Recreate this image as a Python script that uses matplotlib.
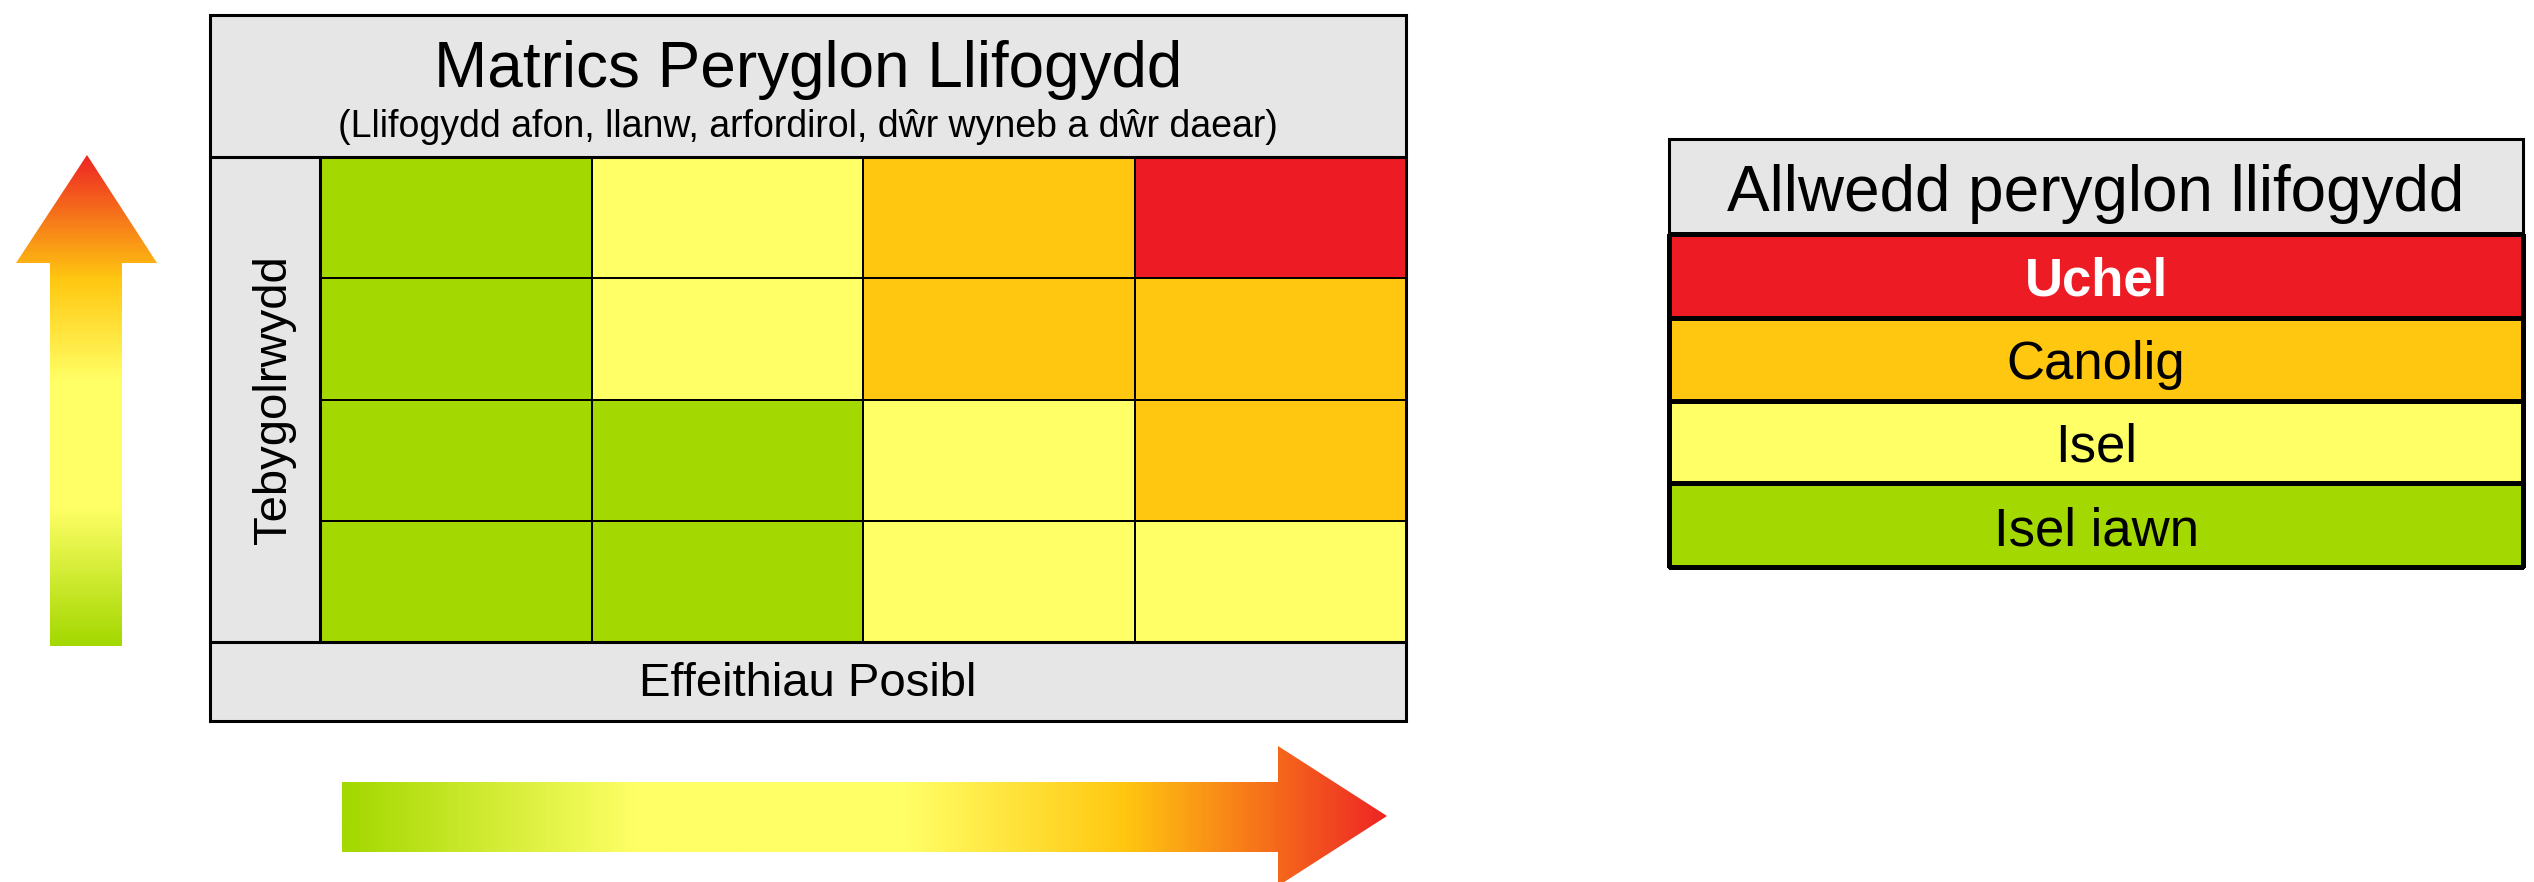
import matplotlib
matplotlib.use("Agg")
import matplotlib.pyplot as plt
import numpy as np
from matplotlib.colors import ListedColormap, LinearSegmentedColormap
from matplotlib.patches import Rectangle, Polygon

plt.rcParams["font.family"] = ["Liberation Sans", "DejaVu Sans"]

W, H = 2534, 882

title = "Matrics Peryglon Llifogydd"
subtitle = "(Llifogydd afon, llanw, arfordirol, dŵr wyneb a dŵr daear)"
y_label = "Tebygolrwydd"
x_label = "Effeithiau Posibl"
key_title = "Allwedd peryglon llifogydd"

# risk level per cell, top row first (0 = isel iawn ... 3 = uchel)
matrix_levels = [
    [0, 1, 2, 3],
    [0, 1, 2, 2],
    [0, 0, 1, 2],
    [0, 0, 1, 1],
]
key_levels = [3, 2, 1, 0]
key_labels = ["Uchel", "Canolig", "Isel", "Isel iawn"]

level_colors = ["#A3D800", "#FFFF66", "#FFC710", "#ED1C24"]
grey = "#E6E6E6"

fig = plt.figure(figsize=(W / 100, H / 100), dpi=100)
ax = fig.add_axes([0, 0, 1, 1])
ax.set_xlim(0, W)
ax.set_ylim(H, 0)
ax.axis("off")

# main box
left, right, top, bottom = 210, 1406, 15, 721
grid_l, grid_t, grid_b = 320, 157, 642
ax.add_patch(Rectangle((left, top), right - left, bottom - top,
                       facecolor=grey, edgecolor="black", lw=2.2, zorder=1))
ax.plot([left, right], [grid_t, grid_t], color="black", lw=2.2, zorder=3)
ax.plot([left, right], [grid_b, grid_b], color="black", lw=2.2, zorder=3)
ax.plot([grid_l, grid_l], [grid_t, grid_b], color="black", lw=2.2, zorder=3)

cmap = ListedColormap(level_colors)
xe = np.linspace(grid_l, right, 5)
ye = np.linspace(grid_t, grid_b, 5)
ax.pcolormesh(xe, ye, np.array(matrix_levels), cmap=cmap, vmin=-0.5, vmax=3.5,
              edgecolors="black", linewidth=1.4, zorder=2)

ax.text((left + right) / 2, 70, title, fontsize=46, ha="center", va="center")
ax.text((left + right) / 2, 127, subtitle, fontsize=27, ha="center", va="center")
ax.text((left + grid_l) / 2 + 9, (grid_t + grid_b) / 2, y_label, fontsize=34,
        rotation=90, ha="center", va="center")
ax.text((left + right) / 2, (grid_b + bottom) / 2 + 3, x_label, fontsize=34,
        ha="center", va="center")

# key
kl, kr = 1669, 2523
k_edges = [139, 234, 318, 401, 483, 567]
ax.add_patch(Rectangle((kl, k_edges[0]), kr - kl, k_edges[1] - k_edges[0],
                       facecolor=grey, edgecolor="black", lw=2.2, zorder=2))
ax.text((kl + kr) / 2, (k_edges[0] + k_edges[1]) / 2 + 8, key_title, fontsize=46,
        ha="center", va="center")
ax.pcolormesh([kl, kr], k_edges[1:], np.array(key_levels).reshape(-1, 1),
              cmap=cmap, vmin=-0.5, vmax=3.5, edgecolors="black", linewidth=2.2,
              zorder=2)
for i, lab in enumerate(key_labels):
    yc = (k_edges[i + 1] + k_edges[i + 2]) / 2 + 6
    if key_levels[i] == 3:
        ax.text((kl + kr) / 2, yc, lab, fontsize=38, ha="center", va="center",
                color="white", fontweight="bold")
    else:
        ax.text((kl + kr) / 2, yc, lab, fontsize=38, ha="center", va="center")

# gradient arrows
grad = LinearSegmentedColormap.from_list("grad", [
    (0.0, "#A3D800"), (0.28, "#FFFF66"), (0.54, "#FFFF66"),
    (0.75, "#FFC710"), (1.0, "#EE2624")])

up = Polygon([(50, 646), (50, 263), (16, 263), (87, 155), (157, 263),
              (122, 263), (122, 646)], closed=True, facecolor="none",
             edgecolor="none")
ax.add_patch(up)
im = ax.imshow(np.linspace(1, 0, 300).reshape(-1, 1), cmap=grad,
               extent=(16, 157, 646, 155), aspect="auto", zorder=2)
im.set_clip_path(up)

rt = Polygon([(342, 782), (1278, 782), (1278, 746), (1387, 816), (1278, 886),
              (1278, 852), (342, 852)], closed=True, facecolor="none",
             edgecolor="none")
ax.add_patch(rt)
im2 = ax.imshow(np.linspace(0, 1, 600).reshape(1, -1), cmap=grad,
                extent=(342, 1387, 886, 746), aspect="auto", zorder=2)
im2.set_clip_path(rt)

ax.set_xlim(0, W)
ax.set_ylim(H, 0)

fig.savefig("out.png", dpi=100)
